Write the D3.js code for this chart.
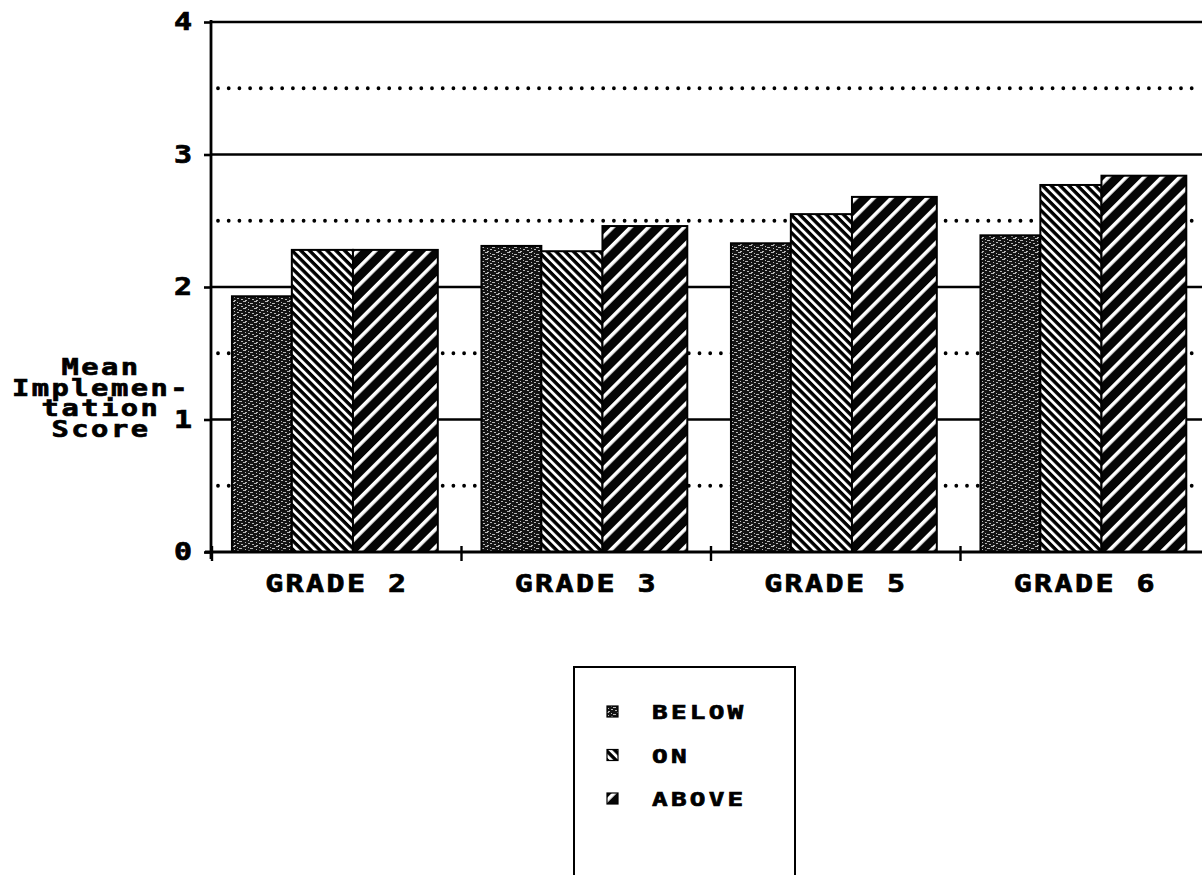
<!DOCTYPE html>
<html>
<head>
<meta charset="utf-8">
<script src="https://cdn.jsdelivr.net/npm/d3@7"></script>
<style>
body { margin: 0; background: #fff; }
svg { display: block; background: #fff; }
text { font-family: "DejaVu Sans Mono", monospace; font-weight: bold; fill: #000; stroke: #000; stroke-width: 0.7px; }
</style>
</head>
<body>
<svg id="chart" width="1202" height="875"></svg>
<script>
// data
var grades = ['GRADE 2', 'GRADE 3', 'GRADE 5', 'GRADE 6'];
var series = ['BELOW', 'ON', 'ABOVE'];
var below = [1.93, 2.31, 2.33, 2.39];
var on = [2.28, 2.27, 2.55, 2.77];
var above = [2.28, 2.46, 2.68, 2.84];
var yTicks = [0, 1, 2, 3, 4];
var yTitle = ['Mean', 'Implemen-', 'tation', 'Score'];

var seriesValues = [below, on, above];

var svg = d3.select('#chart');

//patterns: stipple, back hatch, forward hatch
var defs = svg.append('defs');

var pb = defs.append('pattern')
    .attr('id', 'pBelow')
    .attr('patternUnits', 'userSpaceOnUse')
    .attr('width', 11).attr('height', 7);
pb.append('rect').attr('width', 11).attr('height', 7).attr('fill', '#141414');
[[1, 0, 3, 1], [6, 1, 1, 1], [8, 2, 3, 1], [3, 3, 1, 1], [6, 4, 2, 1],
 [0, 5, 1, 1], [3, 6, 2, 1], [10, 5, 1, 1]].forEach(function (s) {
    pb.append('rect')
        .attr('x', s[0]).attr('y', s[1]).attr('width', s[2]).attr('height', s[3])
        .attr('fill', '#fff').attr('opacity', 0.7);
});

var po = defs.append('pattern')
    .attr('id', 'pOn')
    .attr('patternUnits', 'userSpaceOnUse')
    .attr('width', 6.2).attr('height', 10)
    .attr('patternTransform', 'rotate(-45)');
po.append('rect').attr('width', 6.2).attr('height', 10).attr('fill', '#000');
po.append('rect').attr('width', 2.8).attr('height', 10).attr('fill', '#fff');

var pa = defs.append('pattern')
    .attr('id', 'pAbove')
    .attr('patternUnits', 'userSpaceOnUse')
    .attr('width', 12.6).attr('height', 10)
    .attr('patternTransform', 'rotate(45)');
pa.append('rect').attr('width', 12.6).attr('height', 10).attr('fill', '#050505');
pa.append('rect').attr('width', 3.6).attr('height', 10).attr('fill', '#fff');

var fill = d3.scaleOrdinal()
    .domain(series)
    .range(['url(#pBelow)', 'url(#pOn)', 'url(#pAbove)']);

// scales
var x0 = d3.scaleBand()
    .domain(grades)
    .range([212, 1210])
    .padding(0);

var y = d3.scaleLinear()
    .domain([0, 4])
    .range([552, 22]);

// share of each category band taken by each bar (start, end)
var barStart = [0.08, 0.32, 0.565];
var barEnd = [0.32, 0.565, 0.905];

// grid lines
svg.append('g')
    .selectAll('line')
    .data([1, 2, 3, 4])
    .join('line')
    .attr('x1', 211).attr('x2', 1202)
    .attr('y1', function (d) { return y(d); })
    .attr('y2', function (d) { return y(d); })
    .attr('stroke', '#000')
    .attr('stroke-width', 2.6);

svg.append('g')
    .selectAll('line')
    .data([0.5, 1.5, 2.5, 3.5])
    .join('line')
    .attr('x1', 218).attr('x2', 1202)
    .attr('y1', function (d) { return y(d); })
    .attr('y2', function (d) { return y(d); })
    .attr('stroke', '#000')
    .attr('stroke-width', 3.8)
    .attr('stroke-linecap', 'round')
    .attr('stroke-dasharray', '0,10.7');

// bars
var rows = [];
grades.forEach(function (g, i) {
    series.forEach(function (s, j) {
        rows.push({ grade: g, key: s, idx: j, value: seriesValues[j][i] });
    });
});

function inner(g) {
    return d3.scaleLinear().range([x0(g), x0(g) + x0.bandwidth()]);
}

svg.append('g')
    .selectAll('rect')
    .data(rows)
    .join('rect')
    .attr('x', function (d) { return inner(d.grade)(barStart[d.idx]); })
    .attr('width', function (d) {
        var s = inner(d.grade);
        return s(barEnd[d.idx]) - s(barStart[d.idx]);
    })
    .attr('y', function (d) { return y(d.value); })
    .attr('height', function (d) { return y(0) - y(d.value); })
    .attr('fill', function (d) { return fill(d.key); })
    .attr('stroke', '#000')
    .attr('stroke-width', 2);

// y axis
var yAxis = d3.axisLeft(y)
    .tickValues(yTicks)
    .tickFormat(d3.format('d'))
    .tickSize(7)
    .tickPadding(0);

var gy = svg.append('g')
    .attr('transform', 'translate(211,0)')
    .call(yAxis);
gy.select('.domain').remove();
gy.selectAll('.tick line').attr('stroke', '#000').attr('stroke-width', 2.6);
gy.selectAll('.tick text')
    .attr('x', 0)
    .attr('text-anchor', 'middle')
    .attr('transform', 'translate(-28,0) scale(1.25,1)')
    .attr('font-size', 24)
    .attr('font-family', '"DejaVu Sans Mono", monospace')
    .attr('font-weight', 'bold');

svg.append('line')
    .attr('x1', 211).attr('x2', 211)
    .attr('y1', y(4) - 2).attr('y2', y(0) + 7)
    .attr('stroke', '#000').attr('stroke-width', 2.8);

// x axis
var xAxis = d3.axisBottom(x0)
    .tickSize(0)
    .tickPadding(22);

var gx = svg.append('g')
    .attr('transform', 'translate(0,' + y(0) + ')')
    .call(xAxis);
gx.select('.domain').remove();
gx.selectAll('.tick text')
    .attr('font-size', 25)
    .attr('font-family', '"DejaVu Sans Mono", monospace')
    .attr('font-weight', 'bold')
    .attr('transform', 'scale(1.2,1)')
    .style('letter-spacing', '2px');

svg.append('line')
    .attr('x1', 205).attr('x2', 1202)
    .attr('y1', y(0)).attr('y2', y(0))
    .attr('stroke', '#000').attr('stroke-width', 3);

// category boundary ticks
svg.append('g')
    .selectAll('line')
    .data(grades)
    .join('line')
    .attr('x1', function (d) { return x0(d); })
    .attr('x2', function (d) { return x0(d); })
    .attr('y1', y(0) - 6).attr('y2', y(0) + 9)
    .attr('stroke', '#000').attr('stroke-width', 2.4);

// y title
svg.append('g')
    .selectAll('text')
    .data(yTitle)
    .join('text')
    .attr('transform', function (d, i) { return 'translate(101,' + (375 + i * 20.5) + ') scale(1.25,1)'; })
    .attr('text-anchor', 'middle')
    .attr('font-size', 23)
    .style('letter-spacing', '2px')
    .text(function (d) { return d; });

// legend
var ly = d3.scalePoint().domain(series).range([712, 799]);

svg.append('rect')
    .attr('x', 574).attr('y', 667)
    .attr('width', 221).attr('height', 230)
    .attr('fill', 'none')
    .attr('stroke', '#000')
    .attr('stroke-width', 2);

var items = svg.append('g')
    .selectAll('g')
    .data(series)
    .join('g')
    .attr('transform', function (d) { return 'translate(0,' + ly(d) + ')'; });

items.append('rect')
    .attr('x', 607).attr('y', -6)
    .attr('width', 11).attr('height', 11)
    .attr('fill', function (d) { return fill(d); })
    .attr('stroke', '#000')
    .attr('stroke-width', 1.2);

items.append('text')
    .attr('transform', 'translate(652,0) scale(1.3,1)')
    .attr('dy', '0.36em')
    .attr('font-size', 20)
    .style('letter-spacing', '2.5px')
    .text(function (d) { return d; });
</script>
</body>
</html>
